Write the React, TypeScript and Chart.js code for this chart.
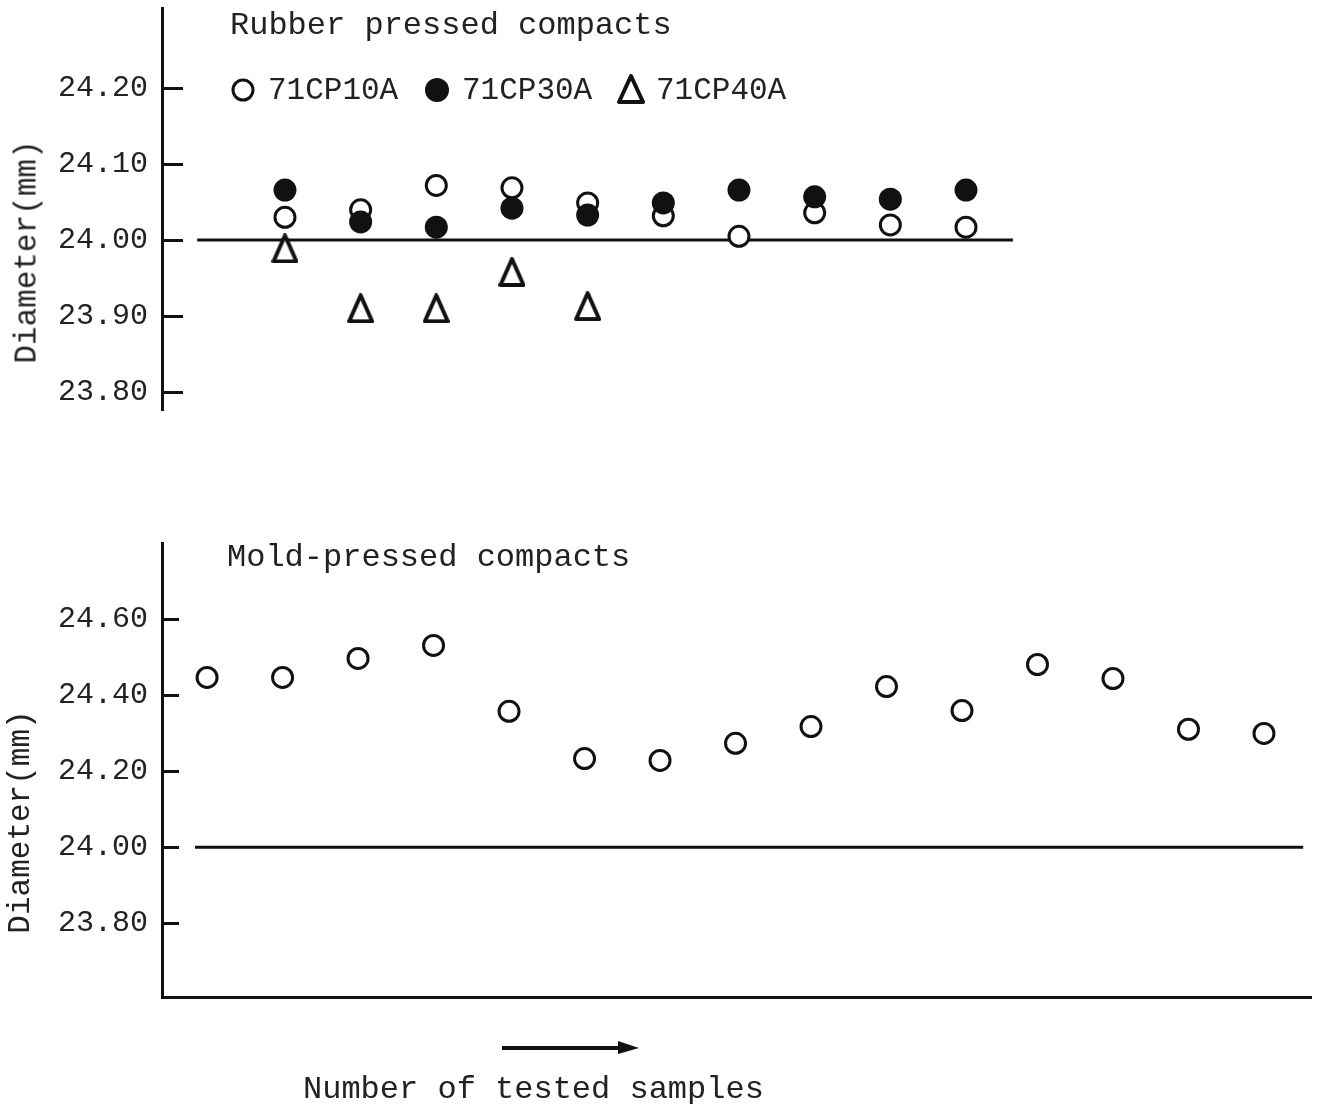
import React, { useEffect, useRef } from "react";
import { Chart, registerables } from "chart.js";

Chart.register(...registerables);

// ---------- data ----------
const rubberSampleIdx = [1, 2, 3, 4, 5, 6, 7, 8, 9, 10];
const cp10A = [24.03, 24.04, 24.072, 24.069, 24.049, 24.032, 24.005, 24.036, 24.02, 24.017];
const cp30A = [24.066, 24.024, 24.017, 24.042, 24.033, 24.049, 24.066, 24.057, 24.054, 24.066];
const cp40ASampleIdx = [1, 2, 3, 4, 5];
const cp40A = [23.989, 23.91, 23.91, 23.958, 23.913];

const moldSampleIdx = [0, 1, 2, 3, 4, 5, 6, 7, 8, 9, 10, 11, 12, 13, 14];
const moldPressed = [24.446, 24.446, 24.496, 24.53, 24.357, 24.233, 24.228, 24.273, 24.317, 24.422, 24.359, 24.48, 24.443, 24.31, 24.299];

const nominalDiameter = 24.0;
const topRefLineX = [-0.16, 10.62];
const bottomRefLineX = [-0.16, 14.52];

const topYTicks = [23.8, 23.9, 24.0, 24.1, 24.2];
const bottomYTicks = [23.8, 24.0, 24.2, 24.4, 24.6];

const legendLabels = ["71CP10A", "71CP30A", "71CP40A"];

// ---------- styles ----------
const INK = "#111";
const TEXT = "#222";
const MONO = "'Liberation Mono', 'DejaVu Sans Mono', monospace";

function makeTriangle(w: number, h: number, lw: number): HTMLCanvasElement {
  const c = document.createElement("canvas");
  c.width = w;
  c.height = h;
  const ctx = c.getContext("2d")!;
  ctx.lineJoin = "round";
  ctx.lineWidth = lw;
  ctx.strokeStyle = INK;
  ctx.fillStyle = "#fff";
  ctx.beginPath();
  ctx.moveTo(w / 2, lw / 2);
  ctx.lineTo(w - lw / 2, h - lw / 2);
  ctx.lineTo(lw / 2, h - lw / 2);
  ctx.closePath();
  ctx.fill();
  ctx.stroke();
  return c;
}

const inwardTicks = {
  id: "inwardTicks",
  afterDatasetsDraw(chart: any, _args: any, opts: any) {
    const y = chart.scales.y;
    const { ctx, chartArea } = chart;
    ctx.save();
    ctx.strokeStyle = INK;
    ctx.lineWidth = 3;
    y.ticks.forEach((t: any) => {
      const py = Math.round(y.getPixelForValue(t.value)) + 0.5;
      ctx.beginPath();
      ctx.moveTo(chartArea.left, py);
      ctx.lineTo(chartArea.left + (opts.length || 20), py);
      ctx.stroke();
    });
    ctx.restore();
  },
};

function yScale(min: number, max: number, ticks: number[]) {
  return {
    type: "linear",
    min,
    max,
    afterFit: (s: any) => {
      s.width = 162;
      s.paddingTop = 0;
      s.paddingBottom = 0;
    },
    afterBuildTicks: (s: any) => {
      s.ticks = ticks.map((v) => ({ value: v }));
    },
    grid: { display: false, drawTicks: false },
    border: { display: true, width: 3, color: INK },
    ticks: {
      padding: 14,
      color: TEXT,
      font: { family: MONO, size: 30 },
      callback: (v: any) => Number(v).toFixed(2),
    },
  };
}

function TopChart() {
  const ref = useRef<HTMLCanvasElement>(null);
  useEffect(() => {
    const tri = makeTriangle(27, 30, 4);
    const chart = new Chart(ref.current!, {
      type: "scatter",
      data: {
        datasets: [
          {
            label: legendLabels[1],
            data: rubberSampleIdx.map((x, i) => ({ x, y: cp30A[i] })),
            pointStyle: "circle",
            pointRadius: 11.5,
            pointBorderWidth: 0,
            pointBackgroundColor: INK,
            pointBorderColor: INK,
            order: 0,
          },
          {
            label: legendLabels[0],
            data: rubberSampleIdx.map((x, i) => ({ x, y: cp10A[i] })),
            pointStyle: "circle",
            pointRadius: 10,
            pointBorderWidth: 3,
            pointBackgroundColor: "#fff",
            pointBorderColor: INK,
            order: 1,
          },
          {
            label: legendLabels[2],
            data: cp40ASampleIdx.map((x, i) => ({ x, y: cp40A[i] })),
            pointStyle: tri as any,
            pointRadius: 14,
            order: 2,
          },
          {
            label: "nominal",
            data: topRefLineX.map((x) => ({ x, y: nominalDiameter })),
            showLine: true,
            borderColor: INK,
            borderWidth: 3,
            pointRadius: 0,
            order: 3,
          },
        ] as any,
      },
      options: {
        animation: false,
        responsive: false,
        maintainAspectRatio: false,
        layout: { autoPadding: false, padding: { top: 8, bottom: 10, left: 0, right: 8 } },
        plugins: {
          legend: { display: false },
          tooltip: { enabled: false },
          inwardTicks: { length: 21 },
        } as any,
        scales: {
          x: { type: "linear", min: -0.625, max: 14.546, display: false },
          y: yScale(23.776, 24.306, topYTicks) as any,
        },
      } as any,
      plugins: [inwardTicks],
    });
    return () => chart.destroy();
  }, []);
  return (
    <canvas
      ref={ref}
      width={1318}
      height={420}
      style={{ position: "absolute", left: 0, top: 0, width: 1318, height: 420 }}
    />
  );
}

function BottomChart() {
  const ref = useRef<HTMLCanvasElement>(null);
  useEffect(() => {
    const chart = new Chart(ref.current!, {
      type: "scatter",
      data: {
        datasets: [
          {
            label: "Mold-pressed",
            data: moldSampleIdx.map((x, i) => ({ x, y: moldPressed[i] })),
            pointStyle: "circle",
            pointRadius: 10,
            pointBorderWidth: 3,
            pointBackgroundColor: "#fff",
            pointBorderColor: INK,
            order: 0,
          },
          {
            label: "nominal",
            data: bottomRefLineX.map((x) => ({ x, y: nominalDiameter })),
            showLine: true,
            borderColor: INK,
            borderWidth: 3,
            pointRadius: 0,
            order: 1,
          },
        ] as any,
      },
      options: {
        animation: false,
        responsive: false,
        maintainAspectRatio: false,
        layout: { autoPadding: false, padding: { top: 13, bottom: 13, left: 0, right: 7 } },
        plugins: {
          legend: { display: false },
          tooltip: { enabled: false },
          inwardTicks: { length: 17 },
        } as any,
        scales: {
          x: {
            type: "linear",
            min: -0.597,
            max: 14.623,
            afterFit: (s: any) => {
              s.height = 0;
              s.paddingLeft = 0;
              s.paddingRight = 0;
            },
            grid: { display: false, drawTicks: false },
            border: { display: true, width: 3, color: INK },
            ticks: { display: false },
          },
          y: yScale(23.607, 24.799, bottomYTicks) as any,
        },
      } as any,
      plugins: [inwardTicks],
    });
    return () => chart.destroy();
  }, []);
  return (
    <canvas
      ref={ref}
      width={1318}
      height={480}
      style={{ position: "absolute", left: 0, top: 530, width: 1318, height: 480 }}
    />
  );
}

function Text({ x, baseline, size, children }: { x: number; baseline: number; size: number; children: any }) {
  return (
    <div
      style={{
        position: "absolute",
        left: x,
        top: baseline - 0.7665 * size,
        fontFamily: MONO,
        fontSize: size,
        lineHeight: 1,
        color: TEXT,
        whiteSpace: "pre",
      }}
    >
      {children}
    </div>
  );
}

function VText({ cx, cy, size, children }: { cx: number; cy: number; size: number; children: any }) {
  return (
    <div
      style={{
        position: "absolute",
        left: cx,
        top: cy,
        transform: "translate(-50%, -50%) rotate(-90deg)",
        fontFamily: MONO,
        fontSize: size,
        lineHeight: 1,
        color: TEXT,
        whiteSpace: "pre",
      }}
    >
      {children}
    </div>
  );
}

function Legend() {
  const items = [
    { cx: 243, tx: 268, kind: "open" },
    { cx: 437, tx: 462, kind: "filled" },
    { cx: 631, tx: 656, kind: "tri" },
  ];
  return (
    <>
      <svg
        width={1318}
        height={130}
        style={{ position: "absolute", left: 0, top: 0, pointerEvents: "none" }}
      >
        {items.map((it, i) =>
          it.kind === "open" ? (
            <circle key={i} cx={it.cx} cy={90} r={10} fill="#fff" stroke={INK} strokeWidth={3} />
          ) : it.kind === "filled" ? (
            <circle key={i} cx={it.cx} cy={90} r={12} fill={INK} />
          ) : (
            <polygon
              key={i}
              points={`${it.cx},${76} ${it.cx + 12},${102} ${it.cx - 12},${102}`}
              fill="#fff"
              stroke={INK}
              strokeWidth={4}
              strokeLinejoin="round"
            />
          )
        )}
      </svg>
      {items.map((it, i) => (
        <Text key={i} x={it.tx} baseline={99} size={31}>
          {legendLabels[i]}
        </Text>
      ))}
    </>
  );
}

export default function App() {
  return (
    <div
      style={{
        position: "absolute",
        left: 0,
        top: 0,
        width: 1318,
        height: 1104,
        background: "#fff",
        overflow: "hidden",
      }}
    >
      <TopChart />
      <BottomChart />
      <Text x={230} baseline={35} size={32}>
        Rubber pressed compacts
      </Text>
      <Legend />
      <Text x={227} baseline={567} size={32}>
        Mold-pressed compacts
      </Text>
      <VText cx={27} cy={252} size={31}>
        Diameter(mm)
      </VText>
      <VText cx={20} cy={822} size={31}>
        Diameter(mm)
      </VText>
      <svg width={1318} height={1104} style={{ position: "absolute", left: 0, top: 0, pointerEvents: "none" }}>
        <line x1={502} y1={1048} x2={622} y2={1048} stroke={INK} strokeWidth={4} />
        <polygon points="618,1041 639,1048 618,1054" fill={INK} />
      </svg>
      <Text x={303} baseline={1099} size={32}>
        Number of tested samples
      </Text>
    </div>
  );
}
